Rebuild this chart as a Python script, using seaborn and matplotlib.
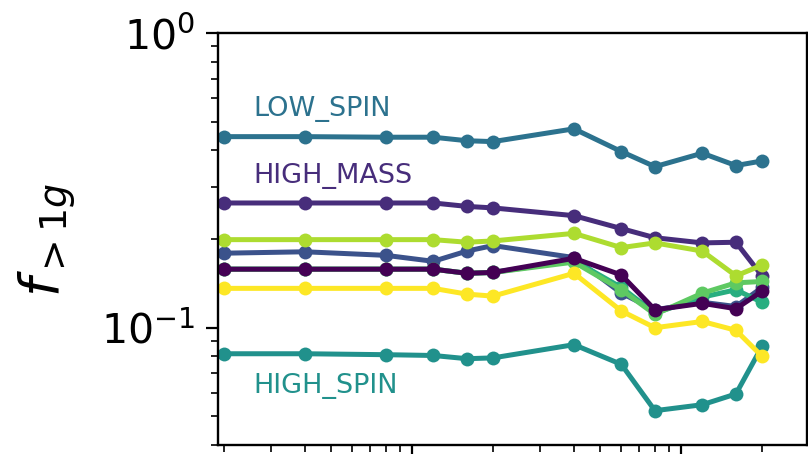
import numpy as np
import pandas as pd
import matplotlib
matplotlib.use("Agg")
import matplotlib.pyplot as plt
import seaborn as sns

# ---- data ----
x_vals = [0.2, 0.4, 0.8, 1.2, 1.6, 2, 4, 6, 8, 12, 16, 20]

series_names = ["s0", "HIGH_MASS", "s2", "LOW_SPIN", "HIGH_SPIN", "s5", "s6", "s7", "s8"]
s0 = [0.158, 0.158, 0.158, 0.158, 0.153, 0.154, 0.172, 0.151, 0.115, 0.121, 0.116, 0.133]
high_mass = [0.265, 0.265, 0.265, 0.265, 0.258, 0.255, 0.240, 0.217, 0.202, 0.194, 0.195, 0.150]
s2 = [0.179, 0.181, 0.176, 0.168, 0.182, 0.190, 0.173, 0.131, 0.115, 0.122, 0.118, 0.137]
low_spin = [0.445, 0.445, 0.443, 0.443, 0.431, 0.428, 0.473, 0.396, 0.352, 0.391, 0.355, 0.368]
high_spin = [0.0816, 0.0816, 0.081, 0.0805, 0.0785, 0.079, 0.0876, 0.0751, 0.0523, 0.0548, 0.0596, 0.0864]
s5 = [0.158, 0.158, 0.158, 0.158, 0.153, 0.154, 0.169, 0.137, 0.112, 0.127, 0.1345, 0.122]
s6 = [0.158, 0.158, 0.158, 0.158, 0.153, 0.154, 0.167, 0.1345, 0.111, 0.131, 0.142, 0.1435]
s7 = [0.199, 0.199, 0.199, 0.199, 0.195, 0.197, 0.209, 0.187, 0.194, 0.182, 0.150, 0.163]
s8 = [0.136, 0.136, 0.136, 0.136, 0.130, 0.128, 0.153, 0.114, 0.100, 0.105, 0.098, 0.080]
series_values = [s0, high_mass, s2, low_spin, high_spin, s5, s6, s7, s8]

labels = ["LOW_SPIN", "HIGH_MASS", "HIGH_SPIN"]

# ---- build long-form table ----
rows = []
for name, vals in zip(series_names, series_values):
    for xv, yv in zip(x_vals, vals):
        rows.append({"x": xv, "f": yv, "model": name})
df = pd.DataFrame(rows)

sns.set_style("ticks")
plt.rcParams.update({"text.color": "black", "axes.labelcolor": "black",
                     "xtick.color": "black", "ytick.color": "black",
                     "axes.edgecolor": "black"})
colors = plt.cm.viridis(np.linspace(0, 1, len(series_names)))
color_of = dict(zip(series_names, colors))

fig = plt.figure(figsize=(8.08, 4.54), dpi=100)
ax = fig.add_axes([218 / 808, 9 / 454, (807 - 218) / 808, (445 - 33) / 454])

draw_order = ["LOW_SPIN", "HIGH_MASS", "s2", "HIGH_SPIN", "s5", "s6", "s0", "s7", "s8"]
for name in draw_order:
    sub = df[df["model"] == name]
    sns.lineplot(data=sub, x="x", y="f", ax=ax, color=color_of[name],
                 marker="o", markersize=10, markeredgewidth=0, linewidth=3.6,
                 legend=False)

ax.set_xscale("log")
ax.set_yscale("log")
ax.set_xlim(0.19, 29.4)
ax.set_ylim(0.04, 1.0)
ax.set_xlabel("")
ax.set_ylabel("")

for sp in ax.spines.values():
    sp.set_visible(True)
    sp.set_linewidth(1.7)
    sp.set_color("black")

ax.tick_params(axis="both", which="major", direction="out", length=8.6, width=1.6,
               labelsize=29.5, color="black", labelcolor="black")
ax.tick_params(axis="both", which="minor", direction="out", length=5, width=1.2,
               color="black")
ax.tick_params(axis="x", which="both", labelbottom=False)
ax.tick_params(axis="y", which="major", pad=8)

# series labels
label_pos = {"LOW_SPIN": 0.7985, "HIGH_MASS": 0.636, "HIGH_SPIN": 0.126}
for lab in labels:
    ax.text(0.0594, label_pos[lab], lab, transform=ax.transAxes, color=color_of[lab],
            fontsize=19.5, ha="left", va="baseline")

fig.text(48 / 808, 1 - 240 / 454, r"$f_{>1g}$", rotation=90, ha="center", va="center",
         fontsize=39, color="black")

fig.savefig("out.png", dpi=100)
